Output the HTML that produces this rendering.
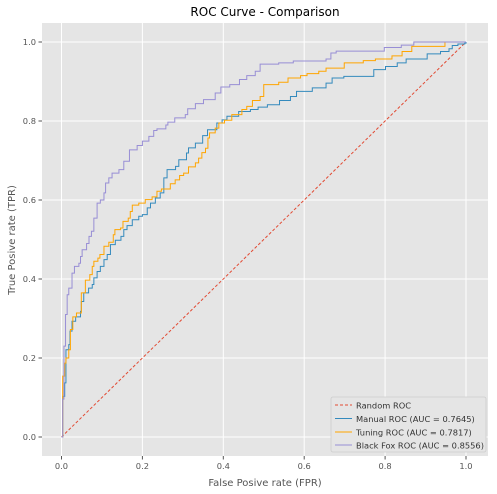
<!DOCTYPE html>
<html><head><meta charset="utf-8"><style>
html,body{margin:0;padding:0;background:#fff;}
svg{display:block;font-family:"DejaVu Sans","Liberation Sans",sans-serif;}
</style></head><body>
<svg id="chart" width="497" height="494" viewBox="0 0 497 494" xmlns="http://www.w3.org/2000/svg">
<rect x="42" y="23" width="446" height="433" fill="#E5E5E5"/>
<g id="grid"></g>
<g id="ticks"></g>
<g id="series"></g>
<text x="265" y="16" text-anchor="middle" font-size="12" fill="#000">ROC Curve - Comparison</text>
<text x="265" y="486" text-anchor="middle" font-size="10" fill="#555">False Posive rate (FPR)</text>
<text transform="translate(15,240) rotate(-90)" text-anchor="middle" font-size="10" fill="#555">True Posive rate (TPR)</text>
<g>
<rect x="331" y="397" width="155" height="55" rx="2" fill="#E5E5E5" stroke="#CCCCCC" stroke-width="0.8"/>
<g><line x1="335" y1="405" x2="352" y2="405" stroke="#E24A33" stroke-dasharray="3,2"/><text x="356" y="408.5" font-size="8.3" fill="#333">Random ROC</text></g>
<g><line x1="335" y1="418.5" x2="352" y2="418.5" stroke="#348ABD"/><text x="356" y="422" font-size="8.3" fill="#333">Manual ROC (AUC = 0.7645)</text></g>
<g><line x1="335" y1="432" x2="352" y2="432" stroke="#FFA500"/><text x="356" y="435.5" font-size="8.3" fill="#333">Tuning ROC (AUC = 0.7817)</text></g>
<g><line x1="335" y1="445" x2="352" y2="445" stroke="#988ED5"/><text x="356" y="448.5" font-size="8.3" fill="#333">Black Fox ROC (AUC = 0.8556)</text></g>
</g>
</svg>
<script>
const xTicks=[0,0.2,0.4,0.6,0.8,1.0];
const yTicks=[0,0.2,0.4,0.6,0.8,1.0];
const tickLabels=["0.0","0.2","0.4","0.6","0.8","1.0"];
const randomFpr=[0,1];
const randomTpr=[0,1];
const manualFpr=[0,0.003,0.008,0.011,0.018,0.021,0.026,0.035,0.047,0.049,0.055,0.067,0.076,0.08,0.088,0.096,0.105,0.113,0.121,0.133,0.147,0.154,0.162,0.175,0.191,0.2,0.212,0.22,0.232,0.244,0.253,0.261,0.282,0.29,0.309,0.314,0.331,0.349,0.361,0.384,0.397,0.409,0.438,0.467,0.486,0.509,0.539,0.566,0.581,0.62,0.654,0.669,0.698,0.772,0.801,0.83,0.852,0.904,0.937,0.958,0.966,0.98,0.997,1];
const manualTpr=[0,0.103,0.137,0.221,0.234,0.268,0.293,0.304,0.318,0.343,0.365,0.377,0.386,0.403,0.419,0.432,0.449,0.462,0.487,0.498,0.508,0.525,0.535,0.55,0.559,0.563,0.58,0.592,0.605,0.618,0.656,0.677,0.685,0.702,0.719,0.732,0.744,0.763,0.778,0.795,0.803,0.812,0.824,0.829,0.835,0.841,0.852,0.862,0.875,0.884,0.896,0.909,0.913,0.93,0.938,0.947,0.957,0.97,0.976,0.983,0.991,0.995,0.997,1];
const tuningFpr=[0,0.003,0.008,0.011,0.018,0.022,0.028,0.037,0.049,0.059,0.07,0.076,0.08,0.09,0.095,0.105,0.117,0.128,0.132,0.146,0.152,0.165,0.17,0.175,0.191,0.207,0.224,0.236,0.247,0.269,0.281,0.292,0.302,0.314,0.331,0.339,0.347,0.356,0.362,0.366,0.38,0.389,0.403,0.421,0.446,0.458,0.472,0.491,0.5,0.537,0.56,0.591,0.607,0.636,0.654,0.699,0.746,0.776,0.817,0.842,0.866,0.948,1];
const tuningTpr=[0,0.154,0.187,0.2,0.221,0.272,0.304,0.314,0.365,0.397,0.411,0.432,0.445,0.453,0.462,0.483,0.493,0.512,0.525,0.529,0.546,0.554,0.571,0.587,0.592,0.601,0.608,0.622,0.628,0.641,0.651,0.662,0.668,0.684,0.694,0.706,0.72,0.731,0.757,0.77,0.782,0.795,0.802,0.816,0.829,0.837,0.852,0.862,0.892,0.898,0.909,0.915,0.92,0.926,0.934,0.947,0.953,0.957,0.965,0.976,0.989,1,1];
const foxFpr=[0,0.003,0.006,0.01,0.014,0.018,0.026,0.032,0.043,0.047,0.051,0.062,0.068,0.074,0.08,0.088,0.096,0.105,0.109,0.117,0.125,0.142,0.154,0.168,0.187,0.2,0.216,0.228,0.236,0.258,0.263,0.28,0.306,0.312,0.331,0.351,0.38,0.394,0.416,0.44,0.458,0.479,0.491,0.537,0.573,0.654,0.666,0.679,0.761,0.798,0.84,0.871,1];
const foxTpr=[0,0.096,0.23,0.31,0.36,0.377,0.415,0.432,0.44,0.457,0.474,0.49,0.508,0.521,0.554,0.592,0.6,0.618,0.643,0.656,0.668,0.677,0.698,0.727,0.738,0.749,0.761,0.776,0.78,0.79,0.797,0.808,0.816,0.831,0.844,0.854,0.871,0.886,0.892,0.905,0.915,0.926,0.944,0.947,0.952,0.957,0.972,0.977,0.977,0.986,0.992,1,1];

const NS="http://www.w3.org/2000/svg";
function xS(v){return 61.5+v*404.5;}
function yS(v){return 437-v*395;}
const grid=document.getElementById('grid'),ticks=document.getElementById('ticks'),series=document.getElementById('series');
function mk(tag,attrs,parent){const e=document.createElementNS(NS,tag);for(const k in attrs)e.setAttribute(k,attrs[k]);parent.appendChild(e);return e;}
xTicks.forEach((v,i)=>{
  const g=mk('line',{x1:xS(v),x2:xS(v),y1:23,y2:456,stroke:'#fff','stroke-width':1},grid);
  
  
  mk('line',{x1:xS(v),x2:xS(v),y1:456,y2:459.5,stroke:'#555'},ticks);
  const t=mk('text',{x:xS(v),y:469,'text-anchor':'middle','font-size':8.3,fill:'#555'},ticks);
  t.textContent=tickLabels[i];
  
  
});
yTicks.forEach((v,i)=>{
  const g=mk('line',{x1:42,x2:488,y1:yS(v),y2:yS(v),stroke:'#fff','stroke-width':1},grid);
  
  
  mk('line',{x1:38.5,x2:42,y1:yS(v),y2:yS(v),stroke:'#555'},ticks);
  const t=mk('text',{x:36,y:yS(v)+3,'text-anchor':'end','font-size':8.3,fill:'#555'},ticks);
  t.textContent=tickLabels[i];
  
  
});
function stepPath(xs,ys){
  let d='M'+xS(xs[0])+','+yS(ys[0]);
  for(let i=1;i<xs.length;i++){d+=' L'+xS(xs[i])+','+yS(ys[i-1])+' L'+xS(xs[i])+','+yS(ys[i]);}
  return d;
}
const rnd=mk('path',{d:'M'+xS(randomFpr[0])+','+yS(randomTpr[0])+' L'+xS(randomFpr[1])+','+yS(randomTpr[1]),stroke:'#E24A33',fill:'none','stroke-width':1,'stroke-dasharray':'3,2'},series);


const man=mk('path',{d:stepPath(manualFpr,manualTpr),stroke:'#348ABD',fill:'none','stroke-width':1},series);


const tun=mk('path',{d:stepPath(tuningFpr,tuningTpr),stroke:'#FFA500',fill:'none','stroke-width':1},series);


const fox=mk('path',{d:stepPath(foxFpr,foxTpr),stroke:'#988ED5',fill:'none','stroke-width':1},series);


</script>
</body></html>
